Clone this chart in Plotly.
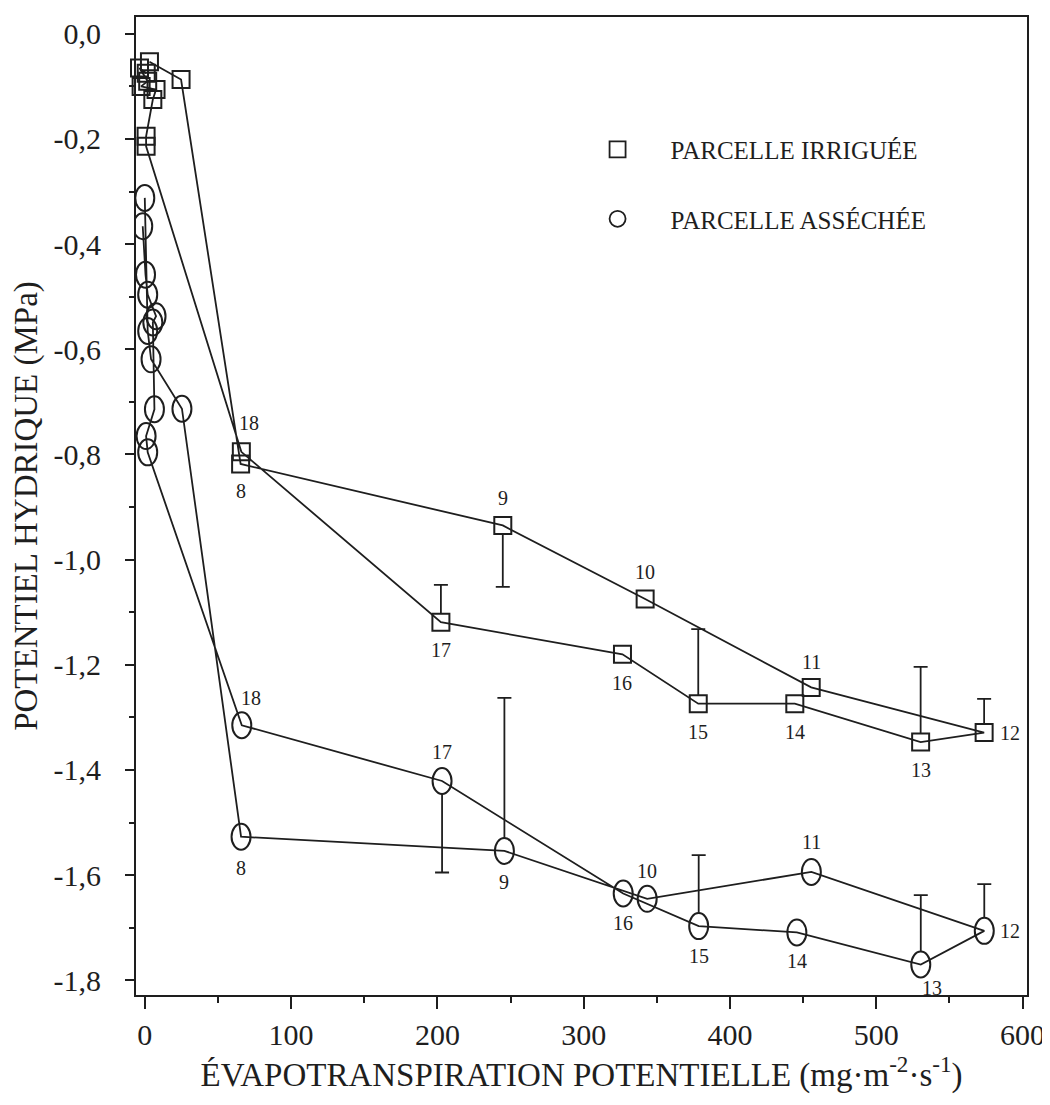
import math
import plotly.graph_objects as go

# ---------------- data ----------------
# Irrigated plot (squares), in chronological order along the drawn line
irr_x = [3.2, 24.8, 65.5, 244.7, 342.0, 455.5, 573.7, 530.3, 444.3, 378.3, 326.5,
         202.4, 66.0, 0.9, 0.9, 5.5, 7.7, -2.5, 2.0, -3.6, 1.0]
irr_y = [-0.053, -0.087, -0.818, -0.935, -1.075, -1.243, -1.329, -1.347, -1.274,
         -1.274, -1.180, -1.119, -0.795, -0.214, -0.195, -0.125, -0.106, -0.100,
         -0.090, -0.065, -0.075]
irr_lbl = ['', '', '8', '9', '10', '11', '12', '13', '14', '15', '16', '17', '18',
           '', '', '', '', '', '', '', '']
irr_err_up = [0, 0, 0, 0, 0, 0, 0.064, 0.143, 0, 0.142, 0, 0.071, 0,
              0, 0, 0, 0, 0, 0, 0, 0]
irr_err_down = [0, 0, 0, 0.117, 0, 0, 0, 0, 0, 0, 0, 0, 0,
                0, 0, 0, 0, 0, 0, 0, 0]

# Dried plot (ellipses)
dry_x = [0.0, 2.0, 4.3, 25.4, 65.8, 245.8, 343.4, 455.6, 573.8, 530.4, 445.7,
         378.6, 327.0, 203.2, 66.3, 2.0, 0.9, 6.6, 5.5, 7.7, 2.0, 0.5, -1.4]
dry_y = [-0.312, -0.565, -0.619, -0.713, -1.527, -1.554, -1.645, -1.594, -1.706,
         -1.770, -1.709, -1.697, -1.635, -1.421, -1.315, -0.796, -0.765, -0.714,
         -0.549, -0.537, -0.496, -0.458, -0.366]
dry_lbl = ['', '', '', '', '8', '9', '10', '11', '12', '13', '14', '15', '16', '17',
           '18', '', '', '', '', '', '', '', '']
dry_err_up = [0, 0, 0, 0, 0, 0.291, 0, 0, 0.089, 0.132, 0, 0.135, 0, 0, 0,
              0, 0, 0, 0, 0, 0, 0, 0]
dry_err_down = [0, 0, 0, 0, 0, 0, 0, 0, 0, 0, 0, 0, 0, 0.174, 0,
                0, 0, 0, 0, 0, 0, 0, 0]

x_ticks = [0, 100, 200, 300, 400, 500, 600]
y_ticks = [-1.8, -1.6, -1.4, -1.2, -1.0, -0.8, -0.6, -0.4, -0.2, 0.0]
y_ticktext = ['-1,8', '-1,6', '-1,4', '-1,2', '-1,0', '-0,8', '-0,6', '-0,4', '-0,2', '0,0']

legend_names = ['PARCELLE IRRIGUÉE', 'PARCELLE ASSÉCHÉE']
x_title = 'ÉVAPOTRANSPIRATION POTENTIELLE (mg·m<sup>-2</sup>·s<sup>-1</sup>)'
y_title = 'POTENTIEL HYDRIQUE (MPa)'

# ---------------- styling ----------------
W, H = 1050, 1105
ML, MR, MT, MB = 128, 31, 7, 118
X_RANGE = [-6, 603]
Y_RANGE = [-1.828, 0.032]
INK = '#1e1e1e'
FONT = 'Liberation Serif, Times New Roman, serif'
px_per_y = (H - MT - MB) / (Y_RANGE[1] - Y_RANGE[0])

SQ_SIZE = 17
ELL_W, ELL_H = 19, 26
CAP = 7

# label placement (pixel offsets) — presentation only
irr_lbl_pos = {'8': (0, -27), '9': (0, 27), '10': (0, 27), '11': (0, 25), '12': (26, 0),
               '13': (0, -28), '14': (0, -28), '15': (0, -28), '16': (0, -29),
               '17': (0, -28), '18': (8, 29)}
dry_lbl_pos = {'8': (0, -31), '9': (0, -31), '10': (0, 28), '11': (0, 30), '12': (26, 0),
               '13': (11, -23), '14': (0, -29), '15': (0, -30), '16': (0, -29),
               '17': (0, 29), '18': (9, 27)}

fig = go.Figure()

fig.add_trace(go.Scatter(
    x=irr_x, y=irr_y, mode='lines+markers', showlegend=False, cliponaxis=False,
    line=dict(color=INK, width=1.8),
    marker=dict(symbol='square-open', size=SQ_SIZE, color=INK, line=dict(width=2, color=INK)),
    hoverinfo='skip'))

fig.add_trace(go.Scatter(
    x=dry_x, y=dry_y, mode='lines', showlegend=False, cliponaxis=False,
    line=dict(color=INK, width=1.8), hoverinfo='skip'))


def add_errors(xs, ys, up, down, edge_px):
    idx = [i for i in range(len(xs)) if up[i] or down[i]]
    e = edge_px / px_per_y
    ex = [xs[i] for i in idx]
    ey = [ys[i] for i in idx]
    arr = [up[i] if up[i] else -e for i in idx]
    arrm = [-e if up[i] else down[i] for i in idx]
    fig.add_trace(go.Scatter(
        x=ex, y=ey, mode='markers', marker=dict(size=2, opacity=0), showlegend=False,
        hoverinfo='skip', cliponaxis=False,
        error_y=dict(type='data', symmetric=False, array=arr, arrayminus=arrm,
                     width=0, thickness=1.8, color=INK)))
    cy = [ys[i] + up[i] if up[i] else ys[i] - down[i] for i in idx]
    fig.add_trace(go.Scatter(
        x=ex, y=cy, mode='markers', marker=dict(size=2, opacity=0), showlegend=False,
        hoverinfo='skip', cliponaxis=False,
        error_y=dict(type='data', symmetric=True, array=[0] * len(idx),
                     width=CAP, thickness=1.8, color=INK)))


add_errors(irr_x, irr_y, irr_err_up, irr_err_down, SQ_SIZE / 2)
add_errors(dry_x, dry_y, dry_err_up, dry_err_down, ELL_H / 2)

# legend entries
fig.add_trace(go.Scatter(x=[None], y=[None], mode='markers', name=legend_names[0],
                         legendgroup='a',
                         marker=dict(symbol='square-open', size=16, color=INK,
                                     line=dict(width=1.8, color=INK))))
fig.add_trace(go.Scatter(x=[None], y=[None], mode='markers', name=legend_names[1],
                         legendgroup='b',
                         marker=dict(symbol='circle-open', size=16, color=INK,
                                     line=dict(width=1.8, color=INK))))

shapes = []
for x, y in zip(dry_x, dry_y):
    shapes.append(dict(type='circle', xref='x', yref='y', xsizemode='pixel',
                       ysizemode='pixel', xanchor=x, yanchor=y,
                       x0=-ELL_W / 2, x1=ELL_W / 2, y0=-ELL_H / 2, y1=ELL_H / 2,
                       line=dict(color=INK, width=2), layer='above'))

annotations = []
for xs, ys, lbls, pos in [(irr_x, irr_y, irr_lbl, irr_lbl_pos),
                          (dry_x, dry_y, dry_lbl, dry_lbl_pos)]:
    for x, y, lab in zip(xs, ys, lbls):
        if lab:
            dx, dy = pos[lab]
            annotations.append(dict(x=x, y=y, xref='x', yref='y', text=lab,
                                    showarrow=False, xshift=dx, yshift=dy,
                                    font=dict(family=FONT, size=20, color=INK)))

fig.update_layout(
    width=W, height=H,
    margin=dict(l=ML, r=MR, t=MT, b=MB),
    paper_bgcolor='white', plot_bgcolor='white',
    font=dict(family=FONT, color=INK),
    shapes=shapes, annotations=annotations,
    showlegend=True,
    legend=dict(x=0.481, y=0.888, xanchor='left', yanchor='top',
                bgcolor='rgba(0,0,0,0)', font=dict(family=FONT, size=25, color=INK),
                traceorder='grouped', tracegroupgap=34, itemwidth=96,
                itemclick=False),
    xaxis=dict(range=X_RANGE, tickvals=x_ticks, ticks='outside', ticklen=12,
               tickwidth=1.8, tickcolor=INK, showline=True, linecolor=INK,
               linewidth=2, mirror=True, showgrid=False, zeroline=False,
               tickfont=dict(family=FONT, size=30, color=INK),
               ticklabelstandoff=0,
               minor=dict(dtick=50, tick0=0, ticks='outside', ticklen=6,
                          tickwidth=1.5, tickcolor=INK, showgrid=False),
               title=dict(text=x_title, font=dict(family=FONT, size=33, color=INK),
                          standoff=10)),
    yaxis=dict(range=Y_RANGE, tickvals=y_ticks, ticktext=y_ticktext, ticks='outside',
               ticklen=9, tickwidth=1.8, tickcolor=INK, showline=True, linecolor=INK,
               linewidth=2, mirror=True, showgrid=False, zeroline=False,
               tickfont=dict(family=FONT, size=30, color=INK),
               ticklabelstandoff=18,
               minor=dict(dtick=0.1, tick0=0, ticks='outside', ticklen=5,
                          tickwidth=1.5, tickcolor=INK, showgrid=False),
               title=dict(text=y_title, font=dict(family=FONT, size=33, color=INK),
                          standoff=8)),
)

fig.write_html('out.html')
